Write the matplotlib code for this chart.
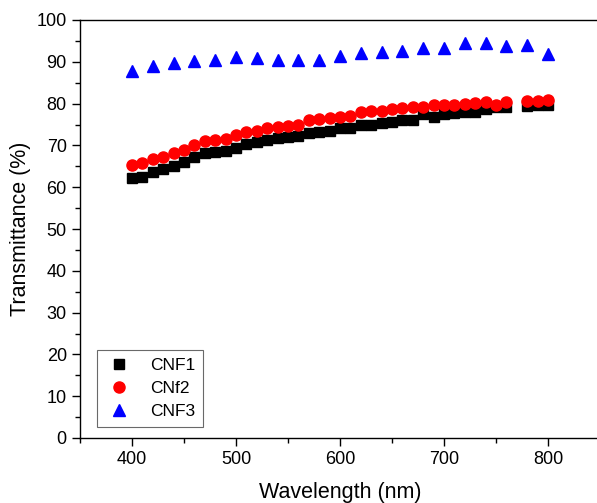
import numpy as np
import matplotlib.pyplot as plt
from matplotlib.ticker import MultipleLocator

plt.rcParams['font.family'] = ['Liberation Sans', 'DejaVu Sans']

# data (770 nm missing for CNF1/CNf2)
wl = [400, 410, 420, 430, 440, 450, 460, 470, 480, 490, 500, 510, 520, 530,
      540, 550, 560, 570, 580, 590, 600, 610, 620, 630, 640, 650, 660, 670,
      680, 690, 700, 710, 720, 730, 740, 750, 760, 780, 790, 800]
cnf1 = [62.1, 62.5, 63.7, 64.4, 65.1, 66.1, 67.3, 68.1, 68.5, 68.7, 69.3, 70.3,
        70.7, 71.4, 71.7, 72.1, 72.2, 72.9, 73.3, 73.4, 74.1, 74.2, 74.9, 75.0,
        75.3, 75.7, 76.1, 76.1, 77.5, 76.9, 77.5, 77.7, 77.9, 78.1, 78.6, 79.1,
        79.3, 79.4, 79.7, 79.7]
cnf2 = [65.3, 65.7, 66.7, 67.3, 68.1, 69.0, 70.2, 71.1, 71.3, 71.5, 72.5, 73.1,
        73.5, 74.2, 74.5, 74.7, 75.0, 76.1, 76.2, 76.5, 76.9, 77.0, 78.1, 78.2,
        78.3, 78.7, 79.0, 79.3, 79.3, 79.7, 79.7, 79.7, 79.9, 80.1, 80.5, 79.7,
        80.5, 80.6, 80.7, 80.9]
wl3 = [400, 420, 440, 460, 480, 500, 520, 540, 560, 580, 600, 620, 640, 660,
       680, 700, 720, 740, 760, 780, 800]
cnf3 = [87.7, 89.0, 89.6, 90.1, 90.5, 91.1, 91.0, 90.5, 90.5, 90.5, 91.3, 92.1,
        92.3, 92.7, 93.2, 93.4, 94.4, 94.4, 93.8, 94.0, 91.8]

fig = plt.figure(figsize=(5.97, 5.03), dpi=100)
ax = fig.add_axes([80/597, 65/503, 520/597, 418/503])

ax.plot(wl, cnf1, 's', color='black', ms=7, label='CNF1')
ax.plot(wl, cnf2, 'o', color='red', ms=8, label='CNf2')
ax.plot(wl3, cnf3, '^', color='blue', ms=8.5, label='CNF3')

ax.set_xlim(350, 850)
ax.set_ylim(0, 100)
ax.xaxis.set_major_locator(MultipleLocator(100))
ax.xaxis.set_minor_locator(MultipleLocator(50))
ax.yaxis.set_major_locator(MultipleLocator(10))
ax.yaxis.set_minor_locator(MultipleLocator(5))
ax.tick_params(which='major', direction='out', length=6, width=1, labelsize=13)
ax.tick_params(which='minor', direction='out', length=3.5, width=1)
for s in ax.spines.values():
    s.set_linewidth(1)

ax.set_xlabel('Wavelength (nm)', fontsize=15.5, labelpad=10)
ax.set_ylabel('Transmittance (%)', fontsize=15.5, labelpad=4)

leg = ax.legend(loc='lower left', bbox_to_anchor=(0.033, 0.026), fontsize=12.5,
                frameon=True, fancybox=False, edgecolor='#444444',
                borderaxespad=0, handletextpad=1.0, borderpad=0.45,
                labelspacing=0.45, handlelength=1.6)
leg.get_frame().set_linewidth(0.8)

plt.savefig('out.png', dpi=100)
